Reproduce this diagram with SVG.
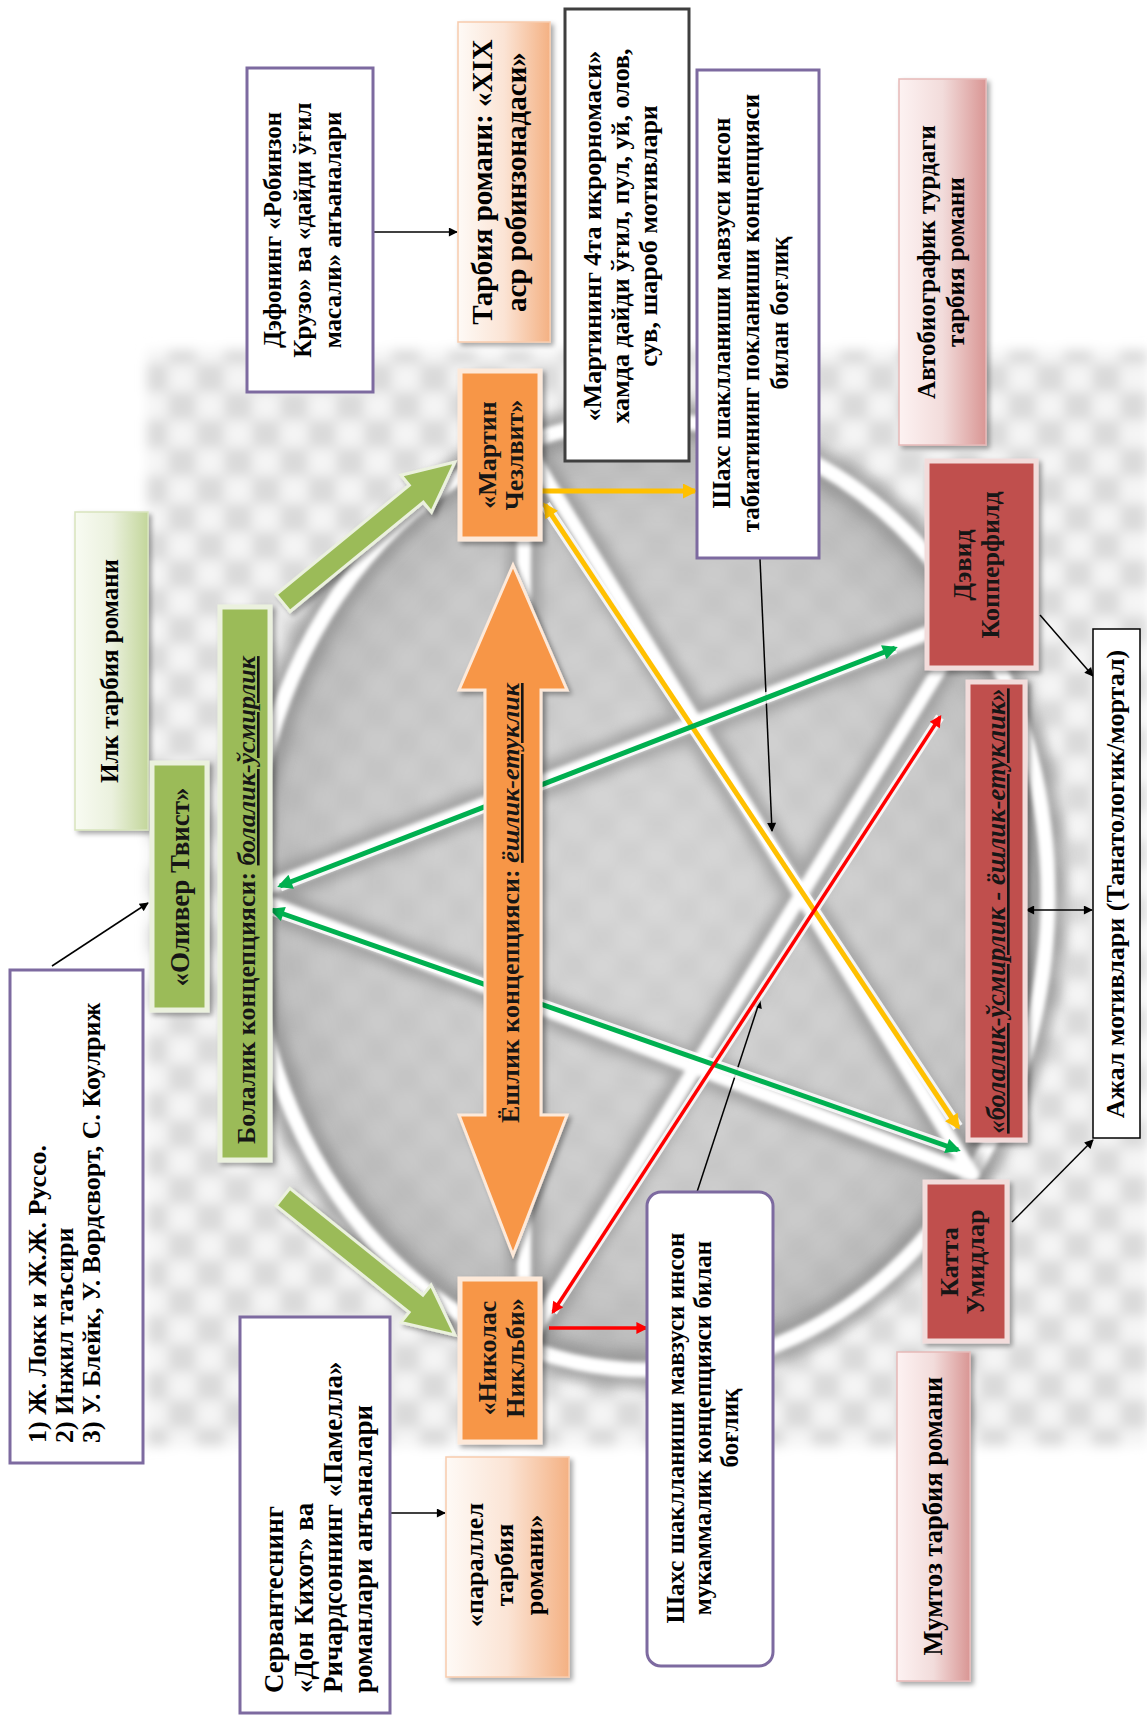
<svg xmlns="http://www.w3.org/2000/svg" width="1147" height="1716" viewBox="0 0 1147 1716">
<defs>
<style>
.t{font-family:"Liberation Serif","Times New Roman",serif;font-weight:bold;fill:#000}
.f25{font-size:25px}.f26{font-size:26px}.f27{font-size:27px}.f29{font-size:29px}
.dk{fill:#161616}
.it{font-style:italic;text-decoration:underline}
.pbox{fill:#fff;stroke:#7d6aa0;stroke-width:3}
.gbox{fill:#9bbb59;stroke:#ebf1de;stroke-width:5}
.obox{fill:#f79646;stroke:#fde9d9;stroke-width:5}
.rbox{fill:#c0504d;stroke:#f2dcdb;stroke-width:5}
.kl{stroke:#000;stroke-width:1.5;fill:none}
.halo{stroke:#fff;fill:none;opacity:0.85}
</style>
<pattern id="chk" width="56" height="56" patternUnits="userSpaceOnUse">
<rect width="56" height="56" fill="#f4f4f4"/>
<rect width="28" height="28" fill="#dadada"/>
<rect x="28" y="28" width="28" height="28" fill="#dadada"/>
</pattern>
<radialGradient id="inner" cx="0.5" cy="0.5" r="0.5">
<stop offset="0" stop-color="#d0d0d0"/>
<stop offset="0.8" stop-color="#bcbcbc"/>
<stop offset="1" stop-color="#a5a5a5"/>
</radialGradient>
<linearGradient id="peach" x1="0" y1="0" x2="1" y2="0">
<stop offset="0" stop-color="#fefaf6"/><stop offset="0.5" stop-color="#fbe4d5"/><stop offset="1" stop-color="#f4b183"/>
</linearGradient>
<linearGradient id="lgreen" x1="0" y1="0" x2="1" y2="0">
<stop offset="0" stop-color="#f8fbf2"/><stop offset="0.5" stop-color="#ebf1de"/><stop offset="1" stop-color="#c3d69b"/>
</linearGradient>
<linearGradient id="pink" x1="0" y1="0" x2="1" y2="0">
<stop offset="0" stop-color="#fdf2f2"/><stop offset="0.5" stop-color="#f2dcdb"/><stop offset="1" stop-color="#d99694"/>
</linearGradient>
<filter id="sh" x="-30%" y="-30%" width="160%" height="160%"><feDropShadow dx="3" dy="3" stdDeviation="2.5" flood-color="#000" flood-opacity="0.35"/></filter>
<filter id="b6" x="-10%" y="-10%" width="120%" height="120%"><feGaussianBlur stdDeviation="6"/></filter>
<filter id="b10" x="-10%" y="-10%" width="120%" height="120%"><feGaussianBlur stdDeviation="10"/></filter>
<filter id="b2" x="-10%" y="-10%" width="120%" height="120%"><feGaussianBlur stdDeviation="2"/></filter>
<marker id="mk" viewBox="0 0 10 10" refX="9" refY="5" markerWidth="11" markerHeight="9" markerUnits="userSpaceOnUse" orient="auto-start-reverse"><path d="M0,0 L10,5 L0,10 z" fill="#000"/></marker>
<marker id="my" viewBox="0 0 10 10" refX="8" refY="5" markerWidth="18" markerHeight="15" markerUnits="userSpaceOnUse" orient="auto-start-reverse"><path d="M0,0 L10,5 L0,10 z" fill="#ffc000"/></marker>
<marker id="mg" viewBox="0 0 10 10" refX="8" refY="5" markerWidth="18" markerHeight="15" markerUnits="userSpaceOnUse" orient="auto-start-reverse"><path d="M0,0 L10,5 L0,10 z" fill="#00b050"/></marker>
<marker id="mr" viewBox="0 0 10 10" refX="8" refY="5" markerWidth="15" markerHeight="12" markerUnits="userSpaceOnUse" orient="auto-start-reverse"><path d="M0,0 L10,5 L0,10 z" fill="#ff0000"/></marker>
</defs>

<rect width="1147" height="1716" fill="#fff"/>

<g id="background">
<rect x="147" y="350" width="1000" height="1096" fill="url(#chk)" filter="url(#b6)"/>
<ellipse cx="648" cy="895" rx="400" ry="475" fill="url(#inner)" opacity="0.75" filter="url(#b10)"/>
<ellipse cx="648" cy="895" rx="400" ry="475" fill="none" stroke="#858585" stroke-width="38" opacity="0.6" filter="url(#b6)"/>
<ellipse cx="648" cy="895" rx="400" ry="475" fill="none" stroke="#fff" stroke-width="15" filter="url(#b2)"/>
<g fill="none" stroke-linecap="round">
<g stroke="#858585" stroke-width="34" opacity="0.55" filter="url(#b6)">
<line x1="248" y1="895" x2="972" y2="616"/>
<line x1="248" y1="895" x2="972" y2="1174"/>
<line x1="524" y1="443" x2="524" y2="1347"/>
<line x1="524" y1="443" x2="972" y2="1174"/>
<line x1="524" y1="1347" x2="972" y2="616"/>
</g>
<g stroke="#fff" stroke-width="14" filter="url(#b2)">
<line x1="248" y1="895" x2="972" y2="616"/>
<line x1="248" y1="895" x2="972" y2="1174"/>
<line x1="524" y1="443" x2="524" y2="1347"/>
<line x1="524" y1="443" x2="972" y2="1174"/>
<line x1="524" y1="1347" x2="972" y2="616"/>
</g>
</g>
</g>

<g id="connectors">
<line class="kl" x1="52" y1="966" x2="148" y2="903" marker-end="url(#mk)"/>
<line class="kl" x1="374" y1="232" x2="457" y2="232" marker-end="url(#mk)"/>
<line class="kl" x1="391" y1="1513" x2="445" y2="1513" marker-end="url(#mk)"/>
<line class="kl" x1="760" y1="559" x2="772" y2="831" marker-end="url(#mk)"/>
<line class="kl" x1="697" y1="1192" x2="760" y2="1000" marker-end="url(#mk)"/>
<line class="kl" x1="1040" y1="615" x2="1093" y2="676" marker-end="url(#mk)"/>
<line class="kl" x1="1012" y1="1222" x2="1093" y2="1140" marker-end="url(#mk)"/>
<line class="kl" x1="1026" y1="910" x2="1092" y2="910" marker-start="url(#mk)" marker-end="url(#mk)"/>

<line class="halo" stroke-width="11" x1="545" y1="505" x2="958" y2="1127"/>
<line class="halo" stroke-width="11" x1="280" y1="886" x2="895" y2="648"/>
<line class="halo" stroke-width="11" x1="272" y1="910" x2="958" y2="1150"/>
<line class="halo" stroke-width="9" x1="553" y1="1312" x2="940" y2="717"/>

<line x1="545" y1="505" x2="958" y2="1127" stroke="#ffc000" stroke-width="5" marker-start="url(#my)" marker-end="url(#my)"/>
<line x1="280" y1="886" x2="895" y2="648" stroke="#00b050" stroke-width="5" marker-start="url(#mg)" marker-end="url(#mg)"/>
<line x1="272" y1="910" x2="958" y2="1150" stroke="#00b050" stroke-width="5" marker-start="url(#mg)" marker-end="url(#mg)"/>
<line x1="553" y1="1312" x2="940" y2="717" stroke="#ff0000" stroke-width="3.5" marker-start="url(#mr)" marker-end="url(#mr)"/>
<line x1="542" y1="491" x2="695" y2="491" stroke="#ffc000" stroke-width="5" marker-end="url(#my)"/>
<line x1="549" y1="1328" x2="646" y2="1328" stroke="#ff0000" stroke-width="3.5" marker-end="url(#mr)"/>

<polygon points="290,611.5 423.3,502.2 431.5,512.2 455,462 401.1,475.2 409.3,485.2 276,594.5" fill="#9bbb59" stroke="#ebf1de" stroke-width="3" filter="url(#sh)"/>
<polygon points="276.1,1205.6 409.1,1312.3 401,1322.4 455,1335 431,1285 422.9,1295.1 289.9,1188.4" fill="#9bbb59" stroke="#ebf1de" stroke-width="3" filter="url(#sh)"/>
</g>

<g id="n-lokk">
<rect class="pbox" x="10" y="970" width="133" height="493"/>
<text class="t f26" transform="translate(46,1443) rotate(-90)"><tspan x="0" y="0">1) Ж. Локк и Ж.Ж. Руссо.</tspan><tspan x="0" dy="27">2) Инжил таъсири</tspan><tspan x="0" dy="27">3) У. Блейк, У. Вордсворт, С. Коулриж</tspan></text>
</g>

<g id="n-ilk">
<rect x="75" y="512" width="73" height="318" fill="url(#lgreen)" stroke="#d7e4bd" stroke-width="1.5" filter="url(#sh)"/>
<text class="t f25" text-anchor="middle" transform="translate(118,671) rotate(-90)">Илк тарбия романи</text>
</g>

<g id="n-oliver">
<rect class="gbox" x="152" y="763" width="55" height="247" filter="url(#sh)"/>
<text class="t f27 dk" text-anchor="middle" transform="translate(189,887) rotate(-90)">«Оливер Твист»</text>
</g>

<g id="n-bolalik">
<rect class="gbox" x="220" y="607" width="50" height="553" filter="url(#sh)"/>
<text class="t f26 dk" text-anchor="middle" transform="translate(255,900) rotate(-90)">Болалик концепцияси: <tspan class="it">болалик-ўсмирлик</tspan></text>
</g>

<g id="n-yoshlik">
<polygon points="513,565 567,690 541,690 541,1115 567,1115 513,1255 459,1115 485,1115 485,690 459,690" fill="#f79646" stroke="#fde9d9" stroke-width="3" filter="url(#sh)"/>
<text class="t f26 dk" text-anchor="middle" transform="translate(519,903) rotate(-90)">Ёшлик концепцияси: <tspan class="it">ёшлик-етуклик</tspan></text>
</g>

<g id="n-martin">
<rect class="obox" x="460" y="371" width="80" height="168" filter="url(#sh)"/>
<text class="t f26 dk" text-anchor="middle" transform="translate(496,455) rotate(-90)"><tspan x="0" y="0">«Мартин</tspan><tspan x="0" dy="27">Чезлвит»</tspan></text>
</g>

<g id="n-nikolas">
<rect class="obox" x="460" y="1279" width="80" height="163" filter="url(#sh)"/>
<text class="t f26 dk" text-anchor="middle" transform="translate(496,1358) rotate(-90)"><tspan x="0" y="0">«Николас</tspan><tspan x="0" dy="28">Никльби»</tspan></text>
</g>

<g id="n-defo">
<rect class="pbox" x="247" y="68" width="126" height="324"/>
<text class="t f25" text-anchor="middle" transform="translate(281,230) rotate(-90)"><tspan x="0" y="0">Дэфонинг «Робинзон</tspan><tspan x="0" dy="30">Крузо» ва «дайди ўғил</tspan><tspan x="0" dy="30">масали» анъаналари</tspan></text>
</g>

<g id="n-tarbiya">
<rect x="458" y="22" width="92" height="320" fill="url(#peach)" stroke="#f8cbad" stroke-width="1.5" filter="url(#sh)"/>
<text class="t f29" text-anchor="middle" transform="translate(492,182) rotate(-90)"><tspan x="0" y="0">Тарбия романи: «XIX</tspan><tspan x="0" dy="34">аср робинзонадаси»</tspan></text>
</g>

<g id="n-martining">
<rect x="565" y="9" width="124" height="452" fill="#fff" stroke="#3f3f3f" stroke-width="3"/>
<text class="t f26" text-anchor="middle" transform="translate(601,236) rotate(-90)"><tspan x="0" y="0">«Мартининг 4та икрорномаси»</tspan><tspan x="0" dy="28">хамда дайди ўғил, пул, уй, олов,</tspan><tspan x="0" dy="28">сув, шароб мотивлари</tspan></text>
</g>

<g id="n-shaxs-top">
<rect class="pbox" x="697" y="70" width="122" height="488"/>
<text class="t f25" text-anchor="middle" transform="translate(730,313) rotate(-90)"><tspan x="0" y="0">Шахс шаклланиши мавзуси инсон</tspan><tspan x="0" dy="29">табиатининг покланиши концепцияси</tspan><tspan x="0" dy="29">билан боғлиқ</tspan></text>
</g>

<g id="n-avtobio">
<rect x="899" y="79" width="87" height="366" fill="url(#pink)" stroke="#e6b9b8" stroke-width="1.5" filter="url(#sh)"/>
<text class="t f25" text-anchor="middle" transform="translate(935,262) rotate(-90)"><tspan x="0" y="0">Автобиографик турдаги</tspan><tspan x="0" dy="29">тарбия романи</tspan></text>
</g>

<g id="n-devid">
<rect class="rbox" x="927" y="461" width="109" height="207" filter="url(#sh)"/>
<text class="t f26 dk" text-anchor="middle" transform="translate(971,565) rotate(-90)"><tspan x="0" y="0">Дэвид</tspan><tspan x="0" dy="28">Копперфилд</tspan></text>
</g>

<g id="n-bolalik-yoshlik">
<rect class="rbox" x="968" y="682" width="57" height="458" filter="url(#sh)"/>
<text class="t dk it" font-size="26.5" text-anchor="middle" transform="translate(1005,911) rotate(-90)">«болалик-ўсмирлик - ёшлик-етуклик»</text>
</g>

<g id="n-ajal">
<rect x="1093" y="629" width="47" height="509" fill="#fff" stroke="#000" stroke-width="1.5"/>
<text class="t f26" text-anchor="middle" transform="translate(1124,884) rotate(-90)">Ажал мотивлари (Танатологик/мортал)</text>
</g>

<g id="n-katta">
<rect class="rbox" x="925" y="1182" width="82" height="159" filter="url(#sh)"/>
<text class="t f26 dk" text-anchor="middle" transform="translate(958,1262) rotate(-90)"><tspan x="0" y="0">Катта</tspan><tspan x="0" dy="26">Умидлар</tspan></text>
</g>

<g id="n-mumtoz">
<rect x="897" y="1352" width="73" height="329" fill="url(#pink)" stroke="#e6b9b8" stroke-width="1.5" filter="url(#sh)"/>
<text class="t" font-size="26.5" text-anchor="middle" transform="translate(942,1516) rotate(-90)">Мумтоз тарбия романи</text>
</g>

<g id="n-shaxs-bottom">
<rect class="pbox" x="647" y="1192" width="126" height="474" rx="14"/>
<text class="t f25" text-anchor="middle" transform="translate(684,1428) rotate(-90)"><tspan x="0" y="0">Шахс шаклланиши мавзуси инсон</tspan><tspan x="0" dy="27">мукаммалик концепцияси билан</tspan><tspan x="0" dy="27">боғлиқ</tspan></text>
</g>

<g id="n-servantes">
<rect class="pbox" x="240" y="1317" width="150" height="396"/>
<text class="t f27" transform="translate(283,1693) rotate(-90)"><tspan x="0" y="0">Сервантеснинг</tspan><tspan x="0" dy="29.5">«Дон Кихот» ва</tspan><tspan x="0" dy="29.5">Ричардсоннинг «Памелла»</tspan><tspan x="0" dy="29.5">романлари анъаналари</tspan></text>
</g>

<g id="n-parallel">
<rect x="446" y="1457" width="123" height="220" fill="url(#peach)" stroke="#f8cbad" stroke-width="1.5" filter="url(#sh)"/>
<text class="t f26" text-anchor="middle" transform="translate(483,1565) rotate(-90)"><tspan x="0" y="0">«параллел</tspan><tspan x="0" dy="30">тарбия</tspan><tspan x="0" dy="30">романи»</tspan></text>
</g>
</svg>
